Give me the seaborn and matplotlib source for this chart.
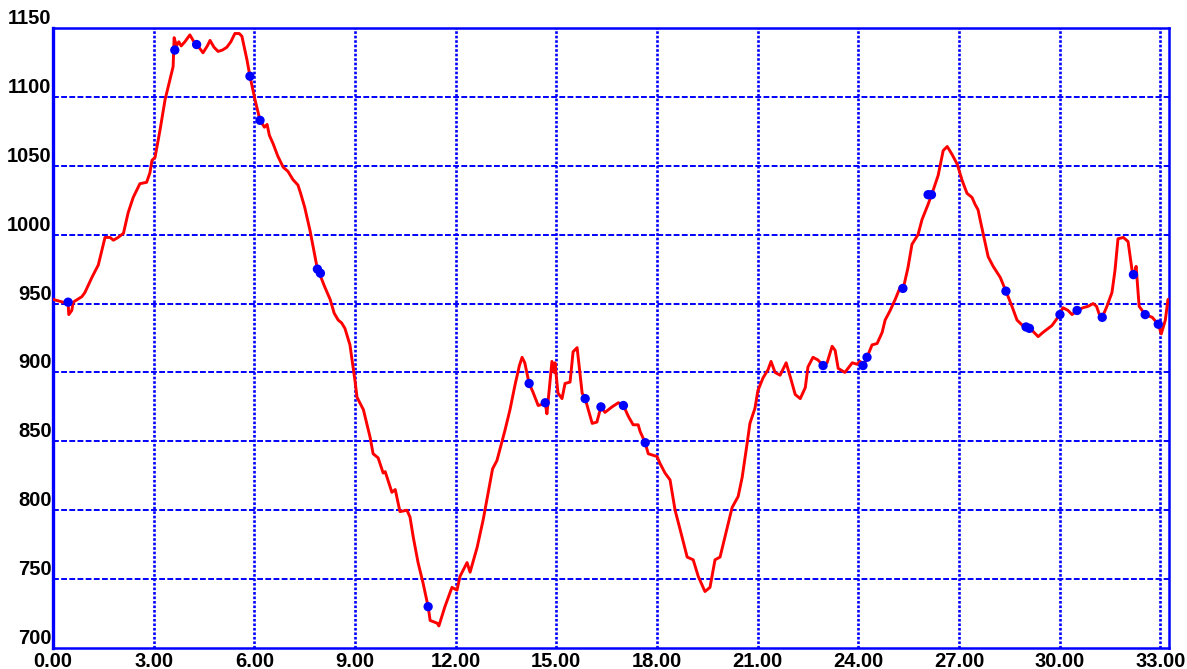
import numpy as np
import matplotlib
matplotlib.use("Agg")
import matplotlib.pyplot as plt
import pandas as pd
import seaborn as sns

# elevation profile (distance, elevation)
dist = [0.00, 0.30, 0.45, 0.47, 0.56, 0.60, 0.86, 0.95, 1.16, 1.35, 1.46, 1.55, 1.70, 1.80, 1.94,
        2.10, 2.24, 2.39, 2.59, 2.79, 2.89, 2.95, 3.04, 3.19, 3.34, 3.58, 3.61, 3.68, 3.75, 3.82,
        3.93, 4.08, 4.20, 4.35, 4.47, 4.60, 4.68, 4.80, 4.92, 5.05, 5.18, 5.30, 5.42, 5.55, 5.63,
        5.78, 5.87, 6.02, 6.10, 6.17, 6.30, 6.38, 6.45, 6.56, 6.70, 6.86, 7.00, 7.15, 7.30, 7.38,
        7.50, 7.66, 7.88, 7.97, 8.10, 8.26, 8.38, 8.50, 8.60, 8.70, 8.85, 9.00, 9.06, 9.25, 9.45,
        9.54, 9.69, 9.84, 9.90, 10.10, 10.20, 10.34, 10.55, 10.64, 10.74, 10.88, 11.03, 11.18, 11.24,
        11.45, 11.50, 11.68, 11.89, 12.04, 12.13, 12.34, 12.43, 12.64, 12.82, 13.00, 13.10, 13.23,
        13.47, 13.62, 13.77, 13.90, 13.98, 14.06, 14.19, 14.30, 14.46, 14.60, 14.67, 14.72, 14.80,
        14.87, 14.94, 14.96, 15.05, 15.17, 15.26, 15.41, 15.50, 15.62, 15.77, 15.86, 16.07, 16.21,
        16.33, 16.45, 16.66, 16.85, 17.00, 17.15, 17.29, 17.44, 17.50, 17.65, 17.74, 18.00, 18.09,
        18.24, 18.39, 18.54, 18.69, 18.90, 19.08, 19.23, 19.43, 19.58, 19.73, 19.88, 20.03, 20.24,
        20.42, 20.54, 20.69, 20.77, 20.92, 21.01, 21.16, 21.31, 21.40, 21.52, 21.67, 21.85, 21.97,
        22.12, 22.27, 22.42, 22.50, 22.65, 22.80, 22.95, 23.07, 23.22, 23.31, 23.40, 23.60, 23.82,
        23.96, 24.05, 24.17, 24.26, 24.41, 24.56, 24.71, 24.80, 24.95, 25.10, 25.25, 25.35, 25.48,
        25.60, 25.78, 25.90, 26.08, 26.20, 26.38, 26.53, 26.65, 26.80, 26.95, 27.10, 27.24, 27.39,
        27.48, 27.57, 27.63, 27.87, 28.02, 28.23, 28.40, 28.58, 28.73, 28.90, 29.05, 29.20, 29.36,
        29.50, 29.77, 29.95, 30.10, 30.25, 30.37, 30.52, 30.70, 30.85, 31.00, 31.10, 31.20, 31.27,
        31.41, 31.56, 31.65, 31.74, 31.90, 32.04, 32.16, 32.22, 32.28, 32.37, 32.55, 32.76, 32.94,
        33.03, 33.15, 33.23]
elev = [953, 951, 951, 942, 945, 951, 955, 958, 969, 978, 989, 998, 998, 996, 998,
        1001, 1016, 1027, 1037, 1038, 1045, 1054, 1056, 1076, 1098, 1122, 1143, 1137, 1140, 1137,
        1140, 1145, 1140, 1136, 1132, 1137, 1141, 1136, 1133, 1134, 1136, 1140, 1146, 1146, 1144,
        1127, 1115, 1098, 1090, 1083, 1078, 1080, 1072, 1066, 1057, 1049, 1046, 1040, 1036, 1030,
        1020, 1003, 975, 970, 962, 953, 943, 938, 936, 932, 920, 894, 882, 873, 853,
        841, 838, 827, 828, 813, 815, 799, 800, 795, 780, 762, 747, 730, 720,
        718, 716, 730, 744, 742, 752, 762, 755, 773, 793, 817, 830, 836,
        858, 873, 891, 905, 911, 907, 892, 886, 876, 877, 878, 870, 890,
        908, 900, 907, 885, 881, 892, 893, 915, 918, 885, 881, 863, 864,
        875, 871, 875, 878, 876, 868, 862, 862, 857, 849, 841, 839, 834,
        827, 822, 800, 786, 766, 764, 752, 741, 744, 764, 766, 781, 802,
        810, 824, 849, 863, 874, 887, 896, 902, 908, 900, 898, 907, 897,
        884, 881, 889, 904, 911, 909, 905, 907, 919, 916, 903, 900, 907,
        906, 908, 906, 911, 920, 921, 929, 938, 945, 953, 962, 962, 976,
        993, 1000, 1011, 1022, 1030, 1043, 1061, 1064, 1058, 1051, 1039, 1030, 1027,
        1022, 1018, 1011, 984, 977, 969, 959, 948, 938, 934, 932, 930, 926,
        929, 934, 940, 947, 945, 942, 945, 947, 948, 950, 948, 941, 940,
        948, 958, 974, 997, 998, 995, 974, 971, 977, 948, 942, 940, 935,
        928, 938, 953]

# waypoints (blue dots)
wp_dist = [0.45, 3.63, 4.28, 5.87, 6.17, 7.88, 7.97, 11.18, 14.19, 14.67, 15.86, 16.33, 17.00,
           17.65, 22.95, 24.14, 24.26, 25.33, 26.08, 26.18, 28.40, 29.00, 29.10, 30.01, 30.52,
           31.27, 32.20, 32.55, 32.94]
wp_elev = [951, 1134, 1138, 1115, 1083, 975, 972, 730, 892, 878, 881, 875, 876,
           849, 905, 905, 911, 961, 1029, 1029, 959, 933, 932, 942, 945,
           940, 971, 942, 935]

x_ticks = np.arange(0, 34, 3)
y_ticks = np.arange(700, 1151, 50)

sns.set_style("white")
plt.rcParams["font.family"] = ["Liberation Sans", "DejaVu Sans"]

profile = pd.DataFrame({"dist": dist, "elev": elev})
points = pd.DataFrame({"dist": wp_dist, "elev": wp_elev})

fig = plt.figure(figsize=(11.87, 6.69), dpi=100)
ax = fig.add_axes([53 / 1187, 1 - 648 / 669, (1169 - 53) / 1187, (648 - 28) / 669])

sns.lineplot(data=profile, x="dist", y="elev", color="#ff0000", linewidth=2.1,
             sort=False, ax=ax, zorder=3)
sns.scatterplot(data=points, x="dist", y="elev", color="#0000ff", s=45,
                edgecolor="none", ax=ax, zorder=4)

ax.set_xlim(0, 33.26)
ax.set_ylim(700, 1150)
ax.set_xticks(x_ticks)
ax.set_xticklabels([f"{v:.2f}" for v in x_ticks])
ax.set_yticks(y_ticks)
ax.set_yticklabels([str(v) for v in y_ticks])
ax.set_xlabel("")
ax.set_ylabel("")

# grid: dotted verticals, dashed horizontals
for v in x_ticks[1:]:
    ax.axvline(v, color="#0000ff", linewidth=1.9, linestyle=(0, (1.0, 0.7)), zorder=1)
for v in y_ticks[1:-1]:
    ax.axhline(v, color="#0000ff", linewidth=1.4, linestyle=(0, (3.0, 1.2)), zorder=1)

for side, spine in ax.spines.items():
    spine.set_color("#0000ff")
    spine.set_linewidth(1.8)
    spine.set_visible(True)
ax.spines["left"].set_linewidth(2.4)

ax.tick_params(axis="both", length=0, labelsize=14.5, colors="black")
ax.tick_params(axis="y", pad=1)
ax.tick_params(axis="x", pad=3)
for lab in ax.get_yticklabels():
    lab.set_verticalalignment("bottom")
    lab.set_fontweight("bold")
for lab in ax.get_xticklabels():
    lab.set_fontweight("bold")

fig.savefig("out.png", dpi=100)
